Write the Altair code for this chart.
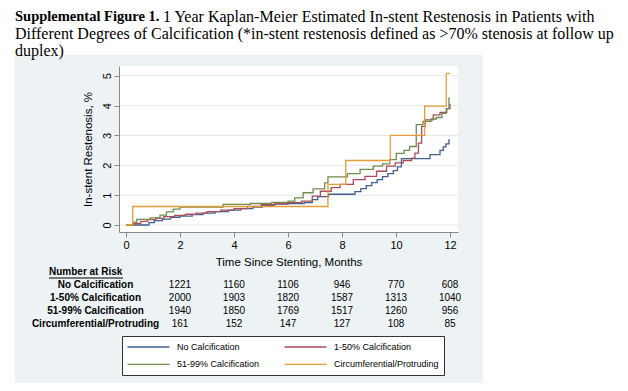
import altair as alt
import pandas as pd

# ---------------- data ----------------
series_names = ["No Calcification", "1-50% Calcification",
                "51-99% Calcification", "Circumferential/Protruding"]
series_colors = ["#40608f", "#ad4a5c", "#6f8d4e", "#e89c38"]

no_t = [0, 0.85, 1.05, 1.35, 1.65, 2.0, 2.45, 2.85, 3.3, 3.8, 4.25, 4.7, 5.05, 5.5,
        6.0, 6.6, 6.9, 7.1, 7.5, 8.48, 8.7, 8.9, 9.1, 9.3, 9.5, 9.7, 9.9, 10.05,
        10.2, 11.26, 11.63, 11.75, 11.85, 11.96, 12.0]
no_v = [0, 0.08, 0.15, 0.2, 0.26, 0.3, 0.35, 0.4, 0.45, 0.5, 0.55, 0.6, 0.65, 0.7,
        0.72, 0.75, 0.85, 0.95, 1.03, 1.12, 1.22, 1.32, 1.42, 1.52, 1.62, 1.72,
        1.82, 1.95, 2.22, 2.36, 2.5, 2.62, 2.72, 2.84, 2.84]

low_t = [0, 0.3, 0.55, 0.8, 1.1, 1.4, 1.8, 2.2, 2.6, 3.0, 3.5, 4.0, 4.5, 5.0, 5.5,
         6.0, 6.5, 6.9, 7.2, 7.6, 7.93, 8.42, 8.85, 9.28, 9.65, 9.97, 10.27,
         10.58, 10.7, 10.83, 10.95, 11.08, 11.38, 11.63, 11.88, 12.0]
low_v = [0, 0.05, 0.12, 0.18, 0.22, 0.28, 0.32, 0.36, 0.4, 0.45, 0.5, 0.55, 0.62,
         0.68, 0.72, 0.75, 0.8, 0.97, 1.13, 1.25, 1.36, 1.52, 1.63, 1.8, 1.97,
         2.08, 2.16, 2.24, 2.41, 2.74, 3.3, 3.52, 3.69, 3.77, 3.9, 4.05]

high_t = [0, 0.27, 0.4, 0.9, 1.26, 1.5, 1.75, 2.0, 3.6, 4.6, 5.4, 6.0, 6.25, 6.56,
          6.93, 7.36, 7.48, 8.2, 8.67, 9.16, 9.5, 9.77, 10.01, 10.3, 10.5, 10.75,
          11.0, 11.3, 11.49, 11.7, 11.86, 11.96, 12.0]
high_v = [0, 0.1, 0.19, 0.24, 0.33, 0.44, 0.53, 0.6, 0.69, 0.72, 0.76, 0.8, 0.91,
          1.08, 1.21, 1.41, 1.61, 1.72, 1.86, 1.97, 2.05, 2.19, 2.4, 2.5, 2.63,
          3.36, 3.47, 3.55, 3.6, 3.74, 3.9, 4.24, 4.24]

circ_t = [0, 0.25, 7.48, 8.14, 9.79, 11.06, 11.86, 12.0]
circ_v = [0, 0.62, 1.36, 2.16, 3.0, 3.98, 5.08, 5.08]

risk_header = "Number at Risk"
risk_months = [2, 4, 6, 8, 10, 12]
risk_no = [1221, 1160, 1106, 946, 770, 608]
risk_low = [2000, 1903, 1820, 1587, 1313, 1040]
risk_high = [1940, 1850, 1769, 1517, 1260, 956]
risk_circ = [161, 152, 147, 127, 108, 85]

x_ticks = [0, 2, 4, 6, 8, 10, 12]
y_ticks = [0, 1, 2, 3, 4, 5]

caption_bold = "Supplemental Figure 1."
caption_lines = [
    "1 Year Kaplan-Meier Estimated In-stent Restenosis in Patients with",
    "Different Degrees of Calcification (*in-stent restenosis defined as >70% stenosis at follow up",
    "duplex)",
]

# ---------------- tables ----------------
rows = []
for name, ts, vs in zip(series_names, [no_t, low_t, high_t, circ_t],
                        [no_v, low_v, high_v, circ_v]):
    for t, v in zip(ts, vs):
        rows.append({"series": name, "month": t, "pct": v})
km = pd.DataFrame(rows)

risk_rows = []
for name, vals in zip(series_names, [risk_no, risk_low, risk_high, risk_circ]):
    for m, n in zip(risk_months, vals):
        risk_rows.append({"row": name, "month": m, "n": str(n)})
risk = pd.DataFrame(risk_rows)
labels_df = pd.DataFrame({"row": series_names})
header_df = pd.DataFrame({"row": [risk_header]})
grid_df = pd.DataFrame({"pct": y_ticks})
one = pd.DataFrame({"a": [0]})

W, H = 339, 166
SANS = "Liberation Sans"
SERIF = "Liberation Serif"

x_scale = alt.Scale(domain=[-0.259, 12.296], nice=False, zero=False)
y_scale = alt.Scale(domain=[-0.234, 5.325], nice=False, zero=False)
table_scale = alt.Scale(type="point", domain=[risk_header] + series_names,
                        range=[206, 258], padding=0)

x_axis = alt.Axis(values=x_ticks, format="d", title="Time Since Stenting, Months",
                  grid=False, tickSize=5, labelPadding=2, labelFontSize=11,
                  titleFontSize=11.5, titleFontWeight="normal", titlePadding=6,
                  zindex=1, labelFlush=False)
y_axis = alt.Axis(values=y_ticks, format="d", title="In-stent Restenosis, %",
                  orient="left", grid=False, tickSize=5, labelAngle=270,
                  labelAlign="center", labelBaseline="bottom", labelPadding=2,
                  labelFontSize=11, titleFontSize=11.5, titleFontWeight="normal",
                  titlePadding=8, zindex=1)

X = alt.X("month:Q", scale=x_scale, axis=x_axis)

panel = alt.Chart(one).mark_rect(color="#edf3f5").encode(
    x=alt.value(-104), x2=alt.value(364), y=alt.value(-11), y2=alt.value(317))
plotbg = alt.Chart(one).mark_rect(color="white").encode(
    x=alt.value(0), x2=alt.value(W), y=alt.value(0), y2=alt.value(H))
grid = alt.Chart(grid_df).mark_rule(color="#e6e6e6", strokeWidth=1).encode(
    y=alt.Y("pct:Q", scale=y_scale, axis=None), x=alt.value(0), x2=alt.value(W))

lines = alt.Chart(km).mark_line(interpolate="step-after", strokeWidth=1.3).encode(
    x=X,
    y=alt.Y("pct:Q", scale=y_scale, axis=y_axis),
    color=alt.Color("series:N", scale=alt.Scale(domain=series_names, range=series_colors),
                    legend=alt.Legend(title=None, orient="none", legendX=3, legendY=270,
                                      direction="horizontal", columns=2,
                                      symbolType="M-1.1,0H7.3", symbolSize=100,
                                      symbolStrokeWidth=1.3, labelFont=SANS, labelFontSize=9,
                                      labelColor="black", labelOffset=38, rowPadding=6.4,
                                      columnPadding=21, padding=5, strokeColor="#333",
                                      fillColor="white", labelLimit=200)),
    detail="series:N",
    order="month:Q",
)

numbers = alt.Chart(risk).mark_text(font=SANS, fontSize=10, color="black",
                                    baseline="middle", align="center").encode(
    x=X, y=alt.Y("row:N", scale=table_scale, axis=None), text="n:N")
row_labels = alt.Chart(labels_df).mark_text(font=SANS, fontSize=10, fontWeight="bold",
                                            color="black", baseline="middle",
                                            align="center").encode(
    x=alt.value(-23.5), y=alt.Y("row:N", scale=table_scale, axis=None), text="row:N")
header = alt.Chart(header_df).mark_text(font=SANS, fontSize=10, fontWeight="bold",
                                        color="black", baseline="middle",
                                        align="left").encode(
    x=alt.value(-70), y=alt.Y("row:N", scale=table_scale, axis=None), text="row:N")
underline = alt.Chart(header_df).mark_rule(color="black", strokeWidth=1, yOffset=6).encode(
    x=alt.value(-70), x2=alt.value(4), y=alt.Y("row:N", scale=table_scale, axis=None))

# leading zero-width char keeps the no-break spaces from being trimmed
INDENT = "\u200b" + "\u00a0" * 37
chart = alt.layer(panel, plotbg, grid, lines, numbers, row_labels, header, underline).resolve_scale(
    y="independent"
).properties(
    width=W, height=H,
    autosize=alt.AutoSizeParams(type="none"),
    padding={"left": 111, "top": 58, "right": 162, "bottom": 151},
    title=alt.TitleParams(
        text=caption_bold,
        subtitle=[INDENT + caption_lines[0], caption_lines[1], caption_lines[2]],
        anchor="start", frame="group", dx=-104, dy=16,
        font=SERIF, fontSize=14.5, fontWeight="bold", color="black",
        subtitleFont=SERIF, subtitleFontSize=16, subtitleFontWeight="normal",
        subtitleColor="black", subtitleLineHeight=17, subtitlePadding=-15.7,
        offset=11,
    ),
).configure_view(stroke=None).configure_axis(
    labelFont=SANS, titleFont=SANS, labelColor="#111",
    titleColor="#111", domainColor="#333", tickColor="#333",
).configure(background="white")

chart.save("out.html", embed_options={"renderer": "svg", "actions": False})
